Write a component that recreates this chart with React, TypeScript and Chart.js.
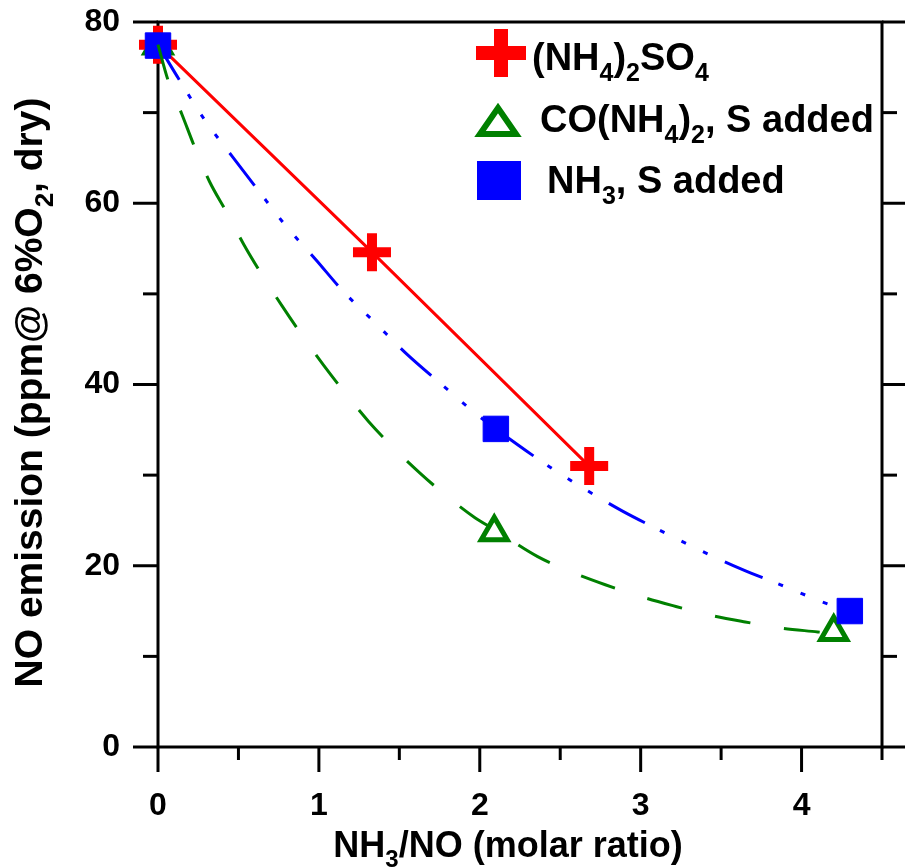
import React, { useEffect, useRef } from 'react';
import { Chart, registerables } from 'chart.js';

Chart.register(...registerables);

const FONT = "'Liberation Sans', Arial, Helvetica, sans-serif";

// ---- measured data ----
const sulfateX = [0, 1.33, 2.68];
const sulfateY = [77.5, 54.6, 31.0];

const ureaX = [0, 2.09, 4.2];
const ureaY = [77.4, 23.7, 12.7];

const ammoniaX = [0, 2.1, 4.3];
const ammoniaY = [77.4, 35.1, 15.0];

// fitted curves
const ureaFitX = [0, 0.062, 0.149, 0.23, 0.32, 0.43, 0.535, 0.65, 0.77, 0.9, 1.03, 1.17, 1.31, 1.47, 1.63, 1.8, 1.97, 2.09, 2.36, 2.57, 2.78, 3.0, 3.2, 3.42, 3.65, 3.88, 4.1, 4.2];
const ureaFitY = [77.5, 73.6, 69.8, 66.1, 62.4, 58.9, 55.4, 52.0, 48.7, 45.3, 42.1, 38.9, 35.9, 32.9, 30.2, 27.6, 25.3, 24.0, 21.0, 19.3, 17.9, 16.6, 15.6, 14.6, 13.8, 13.1, 12.7, 12.5];

const ammoniaFitX = [0, 0.14, 0.29, 0.46, 0.62, 0.79, 0.98, 1.15, 1.35, 1.55, 1.75, 1.96, 2.1, 2.41, 2.64, 2.89, 3.11, 3.37, 3.63, 3.87, 4.13, 4.3];
const ammoniaFitY = [77.5, 73.4, 69.2, 65.2, 61.5, 57.6, 53.8, 50.3, 46.8, 43.3, 40.2, 37.0, 35.1, 31.2, 28.6, 26.0, 24.0, 21.7, 19.6, 17.9, 16.0, 14.9];

// axes
const X_MIN = 0;
const X_MAX = 4.5;
const Y_MIN = 0;
const Y_MAX = 80;
const xLabelTicks = [0, 1, 2, 3, 4];
const xMinorTicks = [0.5, 1.5, 2.5, 3.5, 4.5];
const yLabelTicks = [0, 20, 40, 60, 80];
const yMinorTicks = [10, 30, 50, 70];

// rich text: [text, isSubscript]
type Rich = [string, boolean][];
const xTitle: Rich = [['NH', false], ['3', true], ['/NO (molar ratio)', false]];
const yTitle: Rich = [['NO emission (ppm@ 6%O', false], ['2', true], [', dry)', false]];
const sulfateLabel: Rich = [['(NH', false], ['4', true], [')', false], ['2', true], ['SO', false], ['4', true]];
const ureaLabel: Rich = [['CO(NH', false], ['4', true], [')', false], ['2', true], [', S added', false]];
const ammoniaLabel: Rich = [['NH', false], ['3', true], [', S added', false]];

const RED = '#ff0000';
const GREEN = '#008000';
const BLUE = '#0000ff';

function richWidth(ctx: CanvasRenderingContext2D, parts: Rich, size: number) {
  let w = 0;
  for (const [t, sub] of parts) {
    ctx.font = `bold ${sub ? Math.round(size * 0.67) : size}px ${FONT}`;
    w += ctx.measureText(t).width;
  }
  return w;
}

function drawRich(ctx: CanvasRenderingContext2D, parts: Rich, x: number, y: number, size: number, align: 'left' | 'center') {
  let cx = x;
  if (align === 'center') cx -= richWidth(ctx, parts, size) / 2;
  ctx.textAlign = 'left';
  ctx.textBaseline = 'alphabetic';
  ctx.fillStyle = '#000';
  for (const [t, sub] of parts) {
    const s = sub ? Math.round(size * 0.67) : size;
    ctx.font = `bold ${s}px ${FONT}`;
    ctx.fillText(t, cx, sub ? y + size * 0.28 : y);
    cx += ctx.measureText(t).width;
  }
}

const framePlugin = {
  id: 'frame',
  beforeDatasetsDraw(chart: any) {
    const ctx: CanvasRenderingContext2D = chart.ctx;
    const xs = chart.scales.x;
    const ys = chart.scales.y;
    const L = xs.getPixelForValue(X_MIN);
    const R = xs.getPixelForValue(X_MAX);
    const T = ys.getPixelForValue(Y_MAX);
    const B = ys.getPixelForValue(Y_MIN);
    ctx.save();
    ctx.strokeStyle = '#000';
    ctx.lineWidth = 3;
    ctx.lineCap = 'butt';
    ctx.strokeRect(L, T, R - L, B - T);
    const seg = (x1: number, y1: number, x2: number, y2: number) => {
      ctx.beginPath();
      ctx.moveTo(x1, y1);
      ctx.lineTo(x2, y2);
      ctx.stroke();
    };
    for (const v of xLabelTicks) { const p = xs.getPixelForValue(v); seg(p, B, p, B + 25); }
    for (const v of xMinorTicks) { const p = xs.getPixelForValue(v); seg(p, B, p, B + 13); }
    for (const v of yLabelTicks) { const p = ys.getPixelForValue(v); seg(L - 25, p, L, p); seg(R, p, R + 24, p); }
    for (const v of yMinorTicks) { const p = ys.getPixelForValue(v); seg(L - 15, p, L, p); seg(R, p, R + 15, p); }
    ctx.restore();
  },
  afterDraw(chart: any) {
    const ctx: CanvasRenderingContext2D = chart.ctx;
    const ys = chart.scales.y;
    ctx.save();
    // axis titles
    drawRich(ctx, xTitle, 508, 857, 36, 'center');
    ctx.save();
    ctx.translate(42, (ys.top + ys.bottom) / 2 + 8);
    ctx.rotate(-Math.PI / 2);
    drawRich(ctx, yTitle, 0, 0, 39, 'center');
    ctx.restore();

    // legend
    // row 1: cross
    ctx.strokeStyle = RED;
    ctx.lineWidth = 14;
    ctx.lineCap = 'butt';
    ctx.beginPath();
    ctx.moveTo(476, 53); ctx.lineTo(526, 53);
    ctx.moveTo(501, 29); ctx.lineTo(501, 77);
    ctx.stroke();
    drawRich(ctx, sulfateLabel, 532, 70, 38, 'left');
    // row 2: triangle
    ctx.strokeStyle = GREEN;
    ctx.fillStyle = '#fff';
    ctx.lineWidth = 6;
    ctx.lineJoin = 'miter';
    ctx.beginPath();
    ctx.moveTo(498, 108); ctx.lineTo(516, 134); ctx.lineTo(480, 134); ctx.closePath();
    ctx.fill();
    ctx.stroke();
    drawRich(ctx, ureaLabel, 540, 132, 38, 'left');
    // row 3: square
    ctx.fillStyle = BLUE;
    ctx.fillRect(477, 161, 44, 39);
    drawRich(ctx, ammoniaLabel, 547, 193, 38, 'left');
    ctx.restore();
  },
};

const pts = (xs: number[], ys: number[]) => xs.map((x, i) => ({ x, y: ys[i] }));

export default function App() {
  const ref = useRef<HTMLCanvasElement>(null);
  useEffect(() => {
    if (!ref.current) return;
    const chart = new Chart(ref.current, {
      type: 'line',
      data: {
        datasets: [
          {
            label: 'urea fit',
            data: pts(ureaFitX, ureaFitY),
            borderColor: GREEN,
            borderWidth: 3,
            borderDash: [36, 34],
            pointRadius: 0,
            cubicInterpolationMode: 'monotone',
            fill: false,
            clip: false,
            order: 1,
          },
          {
            label: 'ammonia fit',
            data: pts(ammoniaFitX, ammoniaFitY),
            borderColor: BLUE,
            borderWidth: 3,
            borderDash: [41, 17, 5, 19, 5, 19, 5, 19],
            pointRadius: 0,
            cubicInterpolationMode: 'monotone',
            fill: false,
            clip: false,
            order: 2,
          },
          {
            label: 'NH3, S added',
            data: pts(ammoniaX, ammoniaY),
            showLine: false,
            pointStyle: 'rect',
            pointRadius: 18,
            pointBackgroundColor: BLUE,
            pointBorderColor: BLUE,
            pointBorderWidth: 1,
            clip: false,
            order: 3,
          },
          {
            label: '(NH4)2SO4',
            data: pts(sulfateX, sulfateY),
            borderColor: RED,
            borderWidth: 3,
            tension: 0.15,
            pointStyle: 'cross',
            pointRadius: 19,
            pointBorderColor: RED,
            pointBorderWidth: 10,
            fill: false,
            clip: false,
            order: 4,
          },
          {
            label: 'CO(NH4)2, S added',
            data: pts(ureaX, ureaY),
            showLine: false,
            pointStyle: 'triangle',
            pointRadius: 15,
            pointBackgroundColor: '#fff',
            pointBorderColor: GREEN,
            pointBorderWidth: 5,
            clip: false,
            order: 5,
          },
        ] as any,
      },
      options: {
        animation: false,
        responsive: false,
        devicePixelRatio: 1,
        events: [],
        layout: { autoPadding: false, padding: { left: 0, top: 22, right: 23, bottom: 0 } },
        plugins: { legend: { display: false }, tooltip: { enabled: false }, title: { display: false } },
        scales: {
          x: {
            type: 'linear',
            min: X_MIN,
            max: X_MAX,
            grid: { display: false, drawTicks: false },
            border: { display: false },
            afterBuildTicks: (s: any) => { s.ticks = xLabelTicks.map((v) => ({ value: v })); },
            afterFit: (s: any) => { s.height = 120; s.paddingLeft = 0; s.paddingRight = 0; s.paddingTop = 0; s.paddingBottom = 0; },
            ticks: {
              autoSkip: false,
              maxRotation: 0,
              padding: 40,
              color: '#000',
              font: { family: FONT, size: 32, weight: 'bold' },
              callback: (v: any) => String(v),
            },
          },
          y: {
            type: 'linear',
            min: Y_MIN,
            max: Y_MAX,
            grid: { display: false, drawTicks: false },
            border: { display: false },
            afterBuildTicks: (s: any) => { s.ticks = yLabelTicks.map((v) => ({ value: v })); },
            afterFit: (s: any) => { s.width = 158; s.paddingLeft = 0; s.paddingRight = 0; s.paddingTop = 0; s.paddingBottom = 0; },
            ticks: {
              autoSkip: false,
              padding: 38,
              color: '#000',
              font: { family: FONT, size: 32, weight: 'bold' },
              callback: (v: any) => String(v),
            },
          },
        },
      } as any,
      plugins: [framePlugin],
    });
    return () => chart.destroy();
  }, []);
  return (
    <div style={{ position: 'absolute', left: 0, top: 0, width: 905, height: 867, background: '#fff' }}>
      <canvas ref={ref} width={905} height={867} style={{ display: 'block', width: 905, height: 867 }} />
    </div>
  );
}
